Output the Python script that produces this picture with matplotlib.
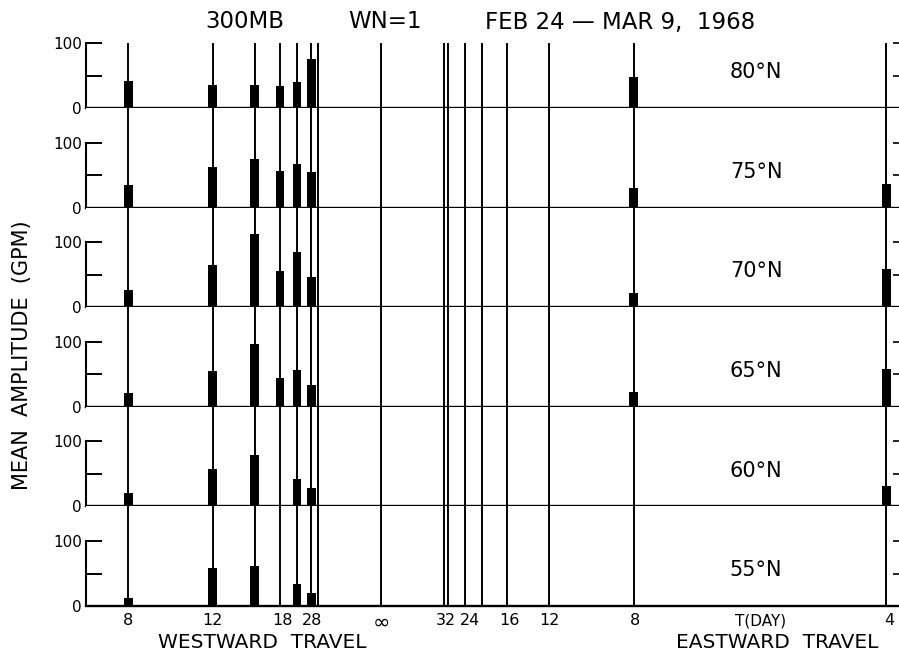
""" Mean amplitude spectra of wave number 1 at 300 mb, one panel per latitude. """

import numpy as np
import matplotlib.pyplot as plt

# Data
latitudes = ['80°N', '75°N', '70°N', '65°N', '60°N', '55°N']

# signed period (days) of every spectral line; negative = westward, 0 = infinite period
line_periods = [-8, -12, -16, -20, -24, -29, -32, 0, 32, 30, 24, 20, 16, 12, 8, 4]

# periods carrying a bar, and mean amplitude (gpm) per latitude
bar_periods = [-8, -12, -16, -20, -24, -29, 8, 4]
amp_80 = [42, 36, 35, 34, 40, 75, 47, 0]
amp_75 = [35, 62, 75, 57, 67, 55, 30, 37]
amp_70 = [26, 65, 112, 55, 85, 47, 22, 59]
amp_65 = [22, 55, 96, 44, 56, 34, 23, 58]
amp_60 = [20, 58, 79, 0, 42, 29, 0, 31]
amp_55 = [12, 58, 62, 0, 34, 20, 0, 0]
amplitudes = [amp_80, amp_75, amp_70, amp_65, amp_60, amp_55]

# bottom axis labels (frequency, cycles/day) as printed
tick_freqs = [-0.125, -0.0833, -0.0485, -0.034, 0.0, 0.032, 0.044, 0.0633, 0.0835, 0.1255, 0.2515]
tick_labels = ['8', '12', '18', '28', '∞', '32', '24', '16', '12', '8', '4']


def to_freq(periods):
    """Signed period -> signed frequency (1/day), 0 means infinite period."""
    p = np.asarray(periods, dtype=float)
    f = np.zeros_like(p)
    nz = p != 0
    f[nz] = 1. / p[nz]
    return f


W, H = 899, 655
fig = plt.figure(figsize=(W / 100, H / 100), dpi=100)

x_left, x_right = 86, 899
top_px = 43
base_px = [108, 207.6, 307.2, 406.8, 506.4, 606]
px_per_gpm = 0.65
xlim = (-0.1459, 0.2562)

line_freq = to_freq(line_periods)
bar_freq = to_freq(bar_periods)

for i, lat in enumerate(latitudes):
    bottom = base_px[i]
    top = top_px if i == 0 else base_px[i - 1]
    ax = fig.add_axes([x_left / W, 1 - bottom / H, (x_right - x_left) / W,
                       (bottom - top) / H])
    ymax = (bottom - top) / px_per_gpm
    ax.set_xlim(xlim)
    ax.set_ylim(0, ymax)

    # Spectral lines
    for f in line_freq:
        ax.axvline(f, color='k', lw=1.4, zorder=2)

    # Bars
    amps = np.asarray(amplitudes[i])
    good = amps > 0
    ax.bar(bar_freq[good], amps[good], width=0.0042, color='k', zorder=3,
           clip_on=False)

    # Panel label
    ax.text(0.1855, 55, lat, fontsize=15, ha='center', va='center')

    # Spines
    ax.spines['top'].set_visible(False)
    ax.spines['right'].set_visible(False)
    ax.spines['left'].set_bounds(0, 100)
    ax.spines['left'].set_linewidth(1.5)
    ax.spines['bottom'].set_linewidth(1.7)

    ax.set_yticks([0, 50, 100])
    ax.set_yticklabels(['0', '', '100'])
    ax.tick_params(axis='y', direction='in', length=11.5, width=1.4,
                   labelsize=11, pad=3)

    # right-hand ticks
    ax2 = ax.twinx()
    ax2.set_ylim(0, ymax)
    ax2.set_yticks([50, 100])
    ax2.tick_params(axis='y', direction='in', length=4.5, width=1.2,
                    labelright=False)
    for sp in ax2.spines.values():
        sp.set_visible(False)

    if i == len(latitudes) - 1:
        ax.set_xticks(tick_freqs)
        ax.set_xticklabels(tick_labels)
        ax.tick_params(axis='x', length=0, labelsize=11.5, pad=5)
        # the infinity sign is printed larger
        for lbl in ax.get_xticklabels():
            if lbl.get_text() == '∞':
                lbl.set_fontsize(15)
        ax.text(0.1875, -0.15, 'T(DAY)', fontsize=11, ha='center', va='center',
                transform=ax.get_xaxis_transform())
    else:
        ax.set_xticks([])

# Titles and axis labels
fig.text(245 / W, 1 - 22 / H, '300MB', fontsize=16.5, ha='center', va='center')
fig.text(385 / W, 1 - 22 / H, 'WN=1', fontsize=16.5, ha='center', va='center')
fig.text(620 / W, 1 - 22 / H, 'FEB 24 — MAR 9,  1968', fontsize=16.5,
         ha='center', va='center')
fig.text(22 / W, 1 - 355 / H, 'MEAN  AMPLITUDE  (GPM)', fontsize=15,
         rotation=90, ha='center', va='center')
fig.text(262 / W, 1 - 642 / H, 'WESTWARD  TRAVEL', fontsize=14.5,
         ha='center', va='center')
fig.text(777 / W, 1 - 642 / H, 'EASTWARD  TRAVEL', fontsize=14.5,
         ha='center', va='center')

plt.savefig('out.png', dpi=100)
